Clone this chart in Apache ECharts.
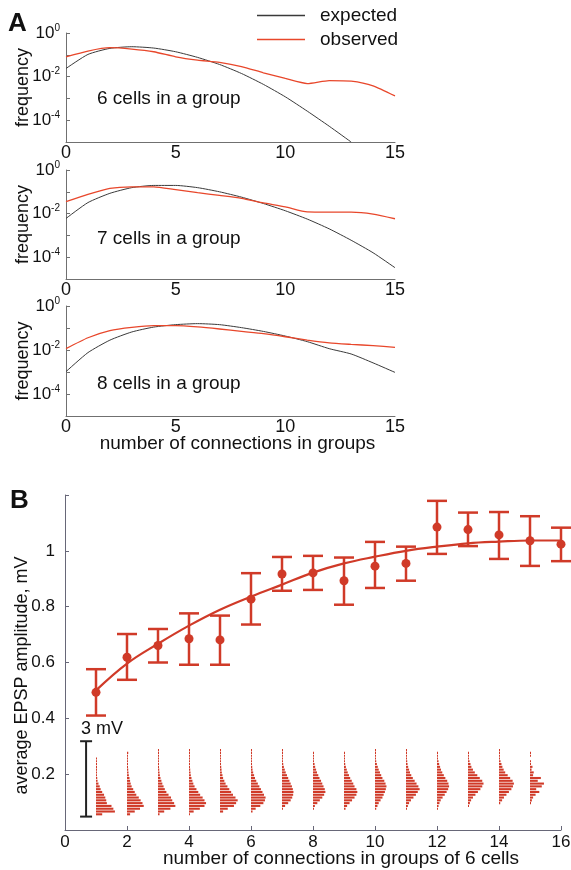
<!DOCTYPE html>
<html>
<head>
<meta charset="utf-8">
<script src="https://cdn.jsdelivr.net/npm/echarts@6/dist/echarts.min.js"></script>
<style>
html,body{margin:0;padding:0;background:#fff;}
#main{width:571px;height:870px;}
</style>
</head>
<body>
<div id="main"></div>
<script>
// panel A: frequency of connection counts (log scale)
const connA = [0,1,2,3,4,5,6,7,8,9,10,11,12,13,14,15];
const expected6 = [0.0236,0.104,0.197,0.235,0.204,0.138,0.076,0.036,0.0139,0.0044,0.00118,0.00026,0.000053,0.00001];
const observed6 = [0.081,0.149,0.212,0.183,0.138,0.081,0.057,0.045,0.029,0.0149,0.0082,0.0048,0.0066,0.0062,0.0038,0.0013];
const expected7 = [0.006,0.032,0.085,0.155,0.196,0.196,0.155,0.1,0.057,0.029,0.0135,0.0056,0.002,0.0006,0.00016,0.000033];
const observed7 = [0.035,0.076,0.144,0.17,0.17,0.125,0.091,0.068,0.05,0.031,0.0205,0.012,0.0117,0.0117,0.0095,0.0058];
const expected8 = [0.00104,0.0076,0.028,0.066,0.11,0.142,0.158,0.142,0.104,0.07,0.043,0.024,0.0115,0.0066,0.0026,0.00096];
const observed8 = [0.0115,0.036,0.076,0.107,0.128,0.128,0.112,0.09,0.07,0.055,0.04,0.028,0.021,0.018,0.0158,0.0132];
const groupLabels = ['6 cells in a group','7 cells in a group','8 cells in a group'];

// panel B: EPSP amplitude vs connections
const connB = [1,2,3,4,5,6,7,8,9,10,11,12,13,14,15,16];
const meanB = [0.493,0.619,0.661,0.685,0.681,0.827,0.917,0.921,0.893,0.945,0.955,1.085,1.076,1.057,1.036,1.024];
const upperB = [0.576,0.702,0.720,0.776,0.768,0.920,0.978,0.982,0.976,1.032,1.015,1.179,1.137,1.139,1.124,1.083];
const lowerB = [0.410,0.538,0.600,0.592,0.592,0.736,0.857,0.860,0.807,0.867,0.893,0.989,1.017,0.971,0.946,0.963];
const fitB = [0.50,0.596,0.667,0.732,0.789,0.836,0.879,0.922,0.955,0.979,1.0,1.015,1.027,1.033,1.037,1.037];

// inset histograms (bin lengths, bottom bin first), one per connection count 1..15
const histBinStart = 0.05;
const histBinSize = 0.01;
const histograms = [
  [0.2,0.61,0.56,0.5,0.35,0.33,0.3,0.26,0.2,0.15,0.12,0.08,0.05,0.04,0.03,0.03,0.02,0.02,0.02,0.02,0.03],
  [0.1,0.25,0.42,0.54,0.5,0.44,0.38,0.3,0.25,0.2,0.15,0.12,0.1,0.08,0.06,0.05,0.04,0.03,0.03,0.02,0.02,0.03,0.04],
  [0.05,0.2,0.4,0.56,0.52,0.46,0.42,0.34,0.27,0.22,0.18,0.14,0.11,0.08,0.06,0.05,0.04,0.03,0.02,0.02,0.02,0.01,0.01,0.01],
  [0.03,0.15,0.35,0.5,0.55,0.5,0.44,0.36,0.3,0.24,0.18,0.14,0.11,0.08,0.06,0.05,0.04,0.03,0.03,0.02,0.02,0.02,0.01,0.01],
  [0,0.1,0.25,0.45,0.52,0.57,0.5,0.42,0.36,0.3,0.24,0.18,0.14,0.1,0.08,0.06,0.05,0.04,0.03,0.02,0.02,0.02,0.01,0.01],
  [0,0.05,0.15,0.3,0.4,0.45,0.47,0.42,0.37,0.32,0.27,0.22,0.17,0.13,0.1,0.07,0.05,0.04,0.03,0.02,0.02,0.01,0.01,0.01],
  [0,0,0.03,0.1,0.2,0.28,0.33,0.36,0.37,0.35,0.32,0.28,0.24,0.2,0.16,0.12,0.09,0.06,0.04,0.03,0.02,0.02,0.01,0.01],
  [0,0,0.02,0.06,0.14,0.22,0.3,0.36,0.4,0.38,0.34,0.3,0.26,0.21,0.17,0.13,0.1,0.07,0.05,0.03,0.02,0.02,0.01],
  [0,0,0.05,0.1,0.18,0.26,0.34,0.4,0.43,0.4,0.34,0.3,0.25,0.2,0.16,0.12,0.09,0.06,0.04,0.03,0.02,0.02,0.01],
  [0,0,0.04,0.08,0.12,0.18,0.24,0.28,0.32,0.35,0.37,0.34,0.3,0.24,0.2,0.16,0.12,0.09,0.06,0.04,0.03,0.02,0.02,0.01],
  [0,0,0.03,0.06,0.1,0.16,0.24,0.32,0.38,0.44,0.4,0.34,0.28,0.22,0.17,0.13,0.1,0.07,0.05,0.04,0.03,0.02,0.01,0.01],
  [0,0,0.03,0.05,0.08,0.12,0.18,0.25,0.31,0.36,0.39,0.37,0.33,0.27,0.22,0.17,0.13,0.1,0.07,0.05,0.03,0.02,0.01],
  [0,0,0,0.03,0.06,0.1,0.16,0.24,0.32,0.4,0.46,0.5,0.46,0.38,0.3,0.22,0.16,0.11,0.08,0.05,0.03,0.02,0.01],
  [0,0,0,0,0.04,0.1,0.16,0.24,0.32,0.4,0.45,0.48,0.44,0.36,0.28,0.2,0.15,0.11,0.08,0.05,0.03,0.02,0.02,0.01],
  [0,0,0,0,0.03,0.06,0.1,0.18,0.3,0.2,0.38,0.45,0.25,0.35,0.1,0.12,0.05,0.08,0.03,0.03,0,0.02,0.02]
];
const scaleBar = [0.68, 0.048, 0.318]; // x, bottom, top (3 mV)

const FONT = 'Liberation Sans, Arial, sans-serif';
const RED_A = '#e8472b';
const RED_B = '#d03a28';
const AXIS_A = '#707070';
const AXIS_B = '#676778';

var dom = document.getElementById('main');
var myChart = echarts.init(dom);

function pairs(xs, ys){
  return ys.map((y,i)=>[xs[i], y]);
}

let grids = [
  {left:66, right:176, top:33, height:109, outerBoundsMode:'none', containLabel:false},
  {left:66, right:176, top:170, height:109, outerBoundsMode:'none', containLabel:false},
  {left:66, right:176, top:306, height:110, outerBoundsMode:'none', containLabel:false},
  {left:65, right:10, top:495, height:335, outerBoundsMode:'none', containLabel:false}
];

let xAxes = [], yAxes = [], series = [], graphics = [];
let panelY = [[expected6,observed6],[expected7,observed7],[expected8,observed8]];
let labelTops = [100, 240, 385];

for (let i = 0; i < 3; i++) {
  xAxes.push({
    gridIndex:i, type:'value', min:0, max:15, interval:5,
    axisLine:{lineStyle:{color:AXIS_A, width:1}},
    axisTick:{show:false},
    splitLine:{show:false},
    axisLabel:{color:'#111', fontSize:18, fontFamily:FONT, margin:2},
    name: i === 2 ? 'number of connections in groups' : '',
    nameLocation:'middle', nameGap:18, nameMoveOverlap:false,
    nameTextStyle:{color:'#111', fontSize:19, fontFamily:FONT, padding:[0,0,0,14]}
  });
  yAxes.push({
    gridIndex:i, type:'log', logBase:10, min:1e-5, max:1, splitNumber:5,
    axisLine:{show:true, lineStyle:{color:AXIS_A, width:1}},
    axisTick:{show:true, inside:true, length:4, lineStyle:{color:AXIS_A}},
    splitLine:{show:false},
    minorTick:{show:false},
    axisLabel:{
      margin:6, fontFamily:FONT,
      formatter:function(v){
        let e = Math.round(Math.log10(v));
        if (e % 2 !== 0) return '';
        return '{b|10}{s|' + e + '}';
      },
      rich:{
        b:{fontSize:17, color:'#111', fontFamily:FONT},
        s:{fontSize:10, color:'#111', fontFamily:FONT, padding:[0,0,10,0]}
      }
    },
    name:'frequency', nameLocation:'middle', nameGap:34, nameMoveOverlap:false,
    nameTextStyle:{color:'#111', fontSize:18, fontFamily:FONT}
  });
  series.push({
    name:'expected', type:'line', xAxisIndex:i, yAxisIndex:i,
    data:pairs(connA, panelY[i][0]), symbol:'none', smooth:0.2,
    lineStyle:{color:'#3a3a3a', width:1}, itemStyle:{color:'#3a3a3a'}
  });
  series.push({
    name:'observed', type:'line', xAxisIndex:i, yAxisIndex:i,
    data:pairs(connA, panelY[i][1]), symbol:'none', smooth:0.2,
    lineStyle:{color:RED_A, width:1.3}, itemStyle:{color:RED_A}
  });
  graphics.push({
    type:'text', left:97, top:labelTops[i]-11,
    style:{text:groupLabels[i], fill:'#111', font:'19px ' + FONT}
  });
}

// panel B axes
xAxes.push({
  gridIndex:3, type:'value', min:0, max:16, interval:2,
  axisLine:{lineStyle:{color:AXIS_B, width:1}},
  axisTick:{show:true, inside:true, length:4, lineStyle:{color:AXIS_B}},
  splitLine:{show:false},
  axisLabel:{color:'#111', fontSize:17, fontFamily:FONT, margin:4},
  name:'number of connections in groups of 6 cells',
  nameLocation:'middle', nameGap:19, nameMoveOverlap:false,
  nameTextStyle:{color:'#111', fontSize:19, fontFamily:FONT, padding:[0,0,0,56]}
});
yAxes.push({
  gridIndex:3, type:'value', min:0, max:1.2, interval:0.2,
  axisLine:{show:true, lineStyle:{color:AXIS_B, width:1}},
  axisTick:{show:true, inside:true, length:4, lineStyle:{color:AXIS_B}},
  splitLine:{show:false},
  axisLabel:{
    color:'#111', fontSize:17, fontFamily:FONT, margin:10,
    formatter:function(v){ return (v < 0.01 || v > 1.1) ? '' : String(+v.toFixed(1)); }
  },
  name:'average EPSP amplitude, mV', nameLocation:'middle', nameGap:34, nameMoveOverlap:false,
  nameTextStyle:{color:'#111', fontSize:18, fontFamily:FONT, padding:[0,26,0,0]}
});

// histograms
let histData = [];
histograms.forEach((h, k)=>{
  h.forEach((len, b)=>{
    if (len > 0) histData.push([k+1, histBinStart + histBinSize*b, len]);
  });
});
series.push({
  type:'custom', xAxisIndex:3, yAxisIndex:3, silent:true,
  data:histData,
  renderItem:function(params, api){
    let x0 = api.value(0), y0 = api.value(1), len = api.value(2);
    let p0 = api.coord([x0, y0]);
    let p1 = api.coord([x0 + len, y0 + histBinSize]);
    return {
      type:'rect',
      shape:{x:p0[0], y:p1[1], width:Math.max(p1[0]-p0[0], 1), height:Math.max(p0[1]-p1[1]-0.7, 1)},
      style:{fill:RED_B}
    };
  }
});

// scale bar
series.push({
  type:'custom', xAxisIndex:3, yAxisIndex:3, silent:true,
  data:[scaleBar],
  renderItem:function(params, api){
    let top = api.coord([api.value(0), api.value(2)]);
    let bot = api.coord([api.value(0), api.value(1)]);
    let st = {stroke:'#222', lineWidth:2};
    return {type:'group', children:[
      {type:'line', shape:{x1:top[0], y1:top[1], x2:bot[0], y2:bot[1]}, style:st},
      {type:'line', shape:{x1:top[0]-6, y1:top[1], x2:top[0]+6, y2:top[1]}, style:st},
      {type:'line', shape:{x1:bot[0]-6, y1:bot[1], x2:bot[0]+6, y2:bot[1]}, style:st},
      {type:'text', x:top[0]-5, y:top[1]-12, style:{text:'3 mV', fill:'#111', font:'18px ' + FONT, textVerticalAlign:'middle'}}
    ]};
  }
});

// error bars
series.push({
  type:'custom', xAxisIndex:3, yAxisIndex:3, silent:true,
  data:connB.map((x,i)=>[x, lowerB[i], upperB[i]]),
  renderItem:function(params, api){
    let hi = api.coord([api.value(0), api.value(2)]);
    let lo = api.coord([api.value(0), api.value(1)]);
    let st = {stroke:RED_B, lineWidth:2.5};
    return {type:'group', children:[
      {type:'line', shape:{x1:hi[0], y1:hi[1], x2:lo[0], y2:lo[1]}, style:st},
      {type:'line', shape:{x1:hi[0]-10, y1:hi[1], x2:hi[0]+10, y2:hi[1]}, style:st},
      {type:'line', shape:{x1:lo[0]-10, y1:lo[1], x2:lo[0]+10, y2:lo[1]}, style:st}
    ]};
  }
});

series.push({
  type:'line', xAxisIndex:3, yAxisIndex:3, data:pairs(connB, fitB),
  symbol:'none', smooth:0.4, lineStyle:{color:RED_B, width:2.2}, silent:true
});
series.push({
  type:'scatter', xAxisIndex:3, yAxisIndex:3, data:pairs(connB, meanB),
  symbolSize:9, itemStyle:{color:RED_B, opacity:1}, silent:true
});

graphics.push({type:'text', left:8, top:11, style:{text:'A', fill:'#111', font:'bold 26px ' + FONT}});
graphics.push({type:'text', left:10, top:488, style:{text:'B', fill:'#111', font:'bold 26px ' + FONT}});

option = {
  backgroundColor:'#fff',
  animation:false,
  grid:grids,
  xAxis:xAxes,
  yAxis:yAxes,
  legend:{
    data:['expected','observed'], orient:'vertical', left:257, top:6, padding:0,
    icon:'rect', itemWidth:48, itemHeight:1.3, itemGap:5,
    textStyle:{color:'#111', fontSize:19, fontFamily:FONT, padding:[0,0,0,10], lineHeight:19}
  },
  graphic:graphics,
  series:series
};
myChart.setOption(option, true);
</script>
</body>
</html>
